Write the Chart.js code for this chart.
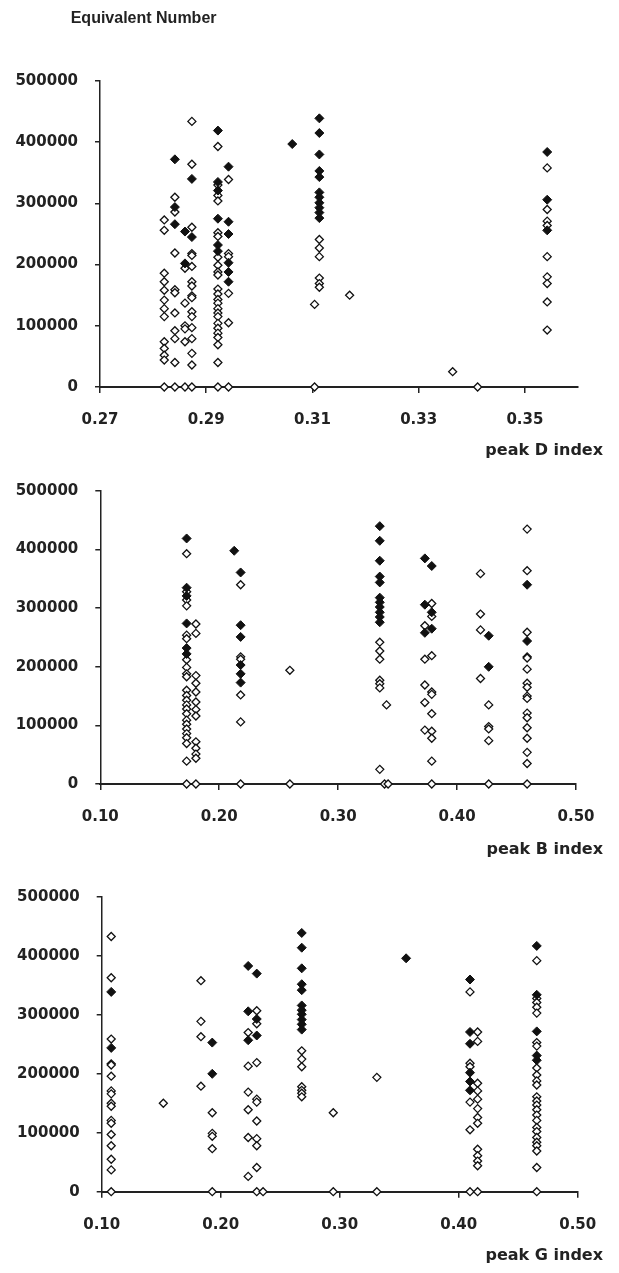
<!DOCTYPE html>
<html>
<head>
<meta charset="utf-8">
<script src="https://cdn.jsdelivr.net/npm/chart.js@4.4.1/dist/chart.umd.min.js"></script>
<style>
    body { margin: 0; background: #fff; }
    #wrap { position: relative; width: 619px; height: 1273px; }
    canvas { position: absolute; left: 0; }
</style>
</head>
<body>
<div id="wrap">
    <canvas id="chartD" width="619" height="465" style="top:0px"></canvas>
    <canvas id="chartB" width="619" height="406" style="top:465px"></canvas>
    <canvas id="chartG" width="619" height="402" style="top:871px"></canvas>
</div>
<script>
// Tick labels
const yTicks = [0, 100000, 200000, 300000, 400000, 500000];
const peakDTicks = [0.27, 0.29, 0.31, 0.33, 0.35];
const peakBTicks = [0.10, 0.20, 0.30, 0.40, 0.50];
const peakGTicks = [0.10, 0.20, 0.30, 0.40, 0.50];

// Each entry: [index value, [equivalent numbers at that index]]
// peak D index
const peakDFilled = [
    [0.2841, [372000, 294000, 266000]],
    [0.2860, [254000, 202000]],
    [0.2873, [340000, 245000]],
    [0.2922, [419000, 335000, 321000, 275000, 232000, 222000]],
    [0.2942, [360000, 270000, 250000, 203000, 188000, 172000]],
    [0.3062, [397000]],
    [0.3113, [439000, 415000, 380000, 353000, 343000, 318000, 310000, 301000, 293000, 285000, 276000]],
    [0.3542, [384000, 306000, 256000]]
];
const peakDOpen = [
    [0.2821, [273000, 256000, 186000, 172000, 158000, 142000, 128000, 115000, 74000, 63000, 52000, 44000, 0]],
    [0.2841, [310000, 286000, 219000, 159000, 154000, 121000, 92000, 79000, 40000, 0]],
    [0.2860, [194000, 137000, 100000, 95000, 74000, 0]],
    [0.2873, [434000, 364000, 261000, 218000, 215000, 197000, 172000, 165000, 149000, 146000, 123000, 115000, 97000, 79000, 55000, 36000, 0]],
    [0.2922, [393000, 330000, 313000, 304000, 252000, 246000, 212000, 199000, 188000, 183000, 160000, 152000, 143000, 137000, 128000, 121000, 115000, 104000, 96000, 88000, 81000, 69000, 40000, 0]],
    [0.2942, [339000, 218000, 213000, 153000, 105000, 0]],
    [0.3104, [135000, 0]],
    [0.3113, [241000, 227000, 213000, 178000, 169000, 163000]],
    [0.3170, [150000]],
    [0.3364, [25000]],
    [0.3411, [0]],
    [0.3542, [358000, 290000, 271000, 264000, 213000, 180000, 169000, 139000, 93000]]
];

// peak B index
const peakBFilled = [
    [0.1726, [419000, 335000, 321000, 274000, 232000, 222000]],
    [0.2126, [398000]],
    [0.2180, [361000, 271000, 251000, 203000, 188000, 173000]],
    [0.3350, [440000, 415000, 381000, 354000, 344000, 318000, 310000, 302000, 293000, 285000, 276000]],
    [0.3729, [385000, 306000, 258000]],
    [0.3787, [372000, 293000, 265000]],
    [0.4266, [253000, 200000]],
    [0.4589, [340000, 244000]]
];
const peakBOpen = [
    [0.1726, [393000, 328000, 314000, 304000, 254000, 248000, 212000, 199000, 188000, 183000, 160000, 151000, 143000, 135000, 128000, 120000, 109000, 102000, 94000, 86000, 79000, 69000, 39000, 0]],
    [0.1804, [273000, 257000, 185000, 172000, 157000, 140000, 127000, 116000, 72000, 61000, 51000, 44000, 0]],
    [0.2180, [340000, 217000, 213000, 152000, 106000, 0]],
    [0.2594, [194000, 0]],
    [0.3350, [242000, 227000, 213000, 177000, 171000, 164000, 25000]],
    [0.3390, [0]],
    [0.3407, [135000]],
    [0.3420, [0]],
    [0.3729, [270000, 213000, 169000, 139000, 92000]],
    [0.3787, [308000, 286000, 219000, 157000, 153000, 120000, 90000, 78000, 39000, 0]],
    [0.4197, [359000, 290000, 263000, 180000]],
    [0.4266, [135000, 98000, 94000, 74000, 0]],
    [0.4589, [435000, 364000, 259000, 217000, 215000, 196000, 172000, 165000, 150000, 146000, 121000, 113000, 96000, 78000, 54000, 35000, 0]]
];

// peak G index
const peakGFilled = [
    [0.1080, [339000, 244000]],
    [0.1929, [253000, 200000]],
    [0.2231, [383000, 306000, 257000]],
    [0.2303, [370000, 293000, 265000]],
    [0.2681, [439000, 414000, 379000, 352000, 342000, 316000, 308000, 301000, 292000, 284000, 275000]],
    [0.3558, [396000]],
    [0.4095, [360000, 271000, 251000, 202000, 187000, 172000]],
    [0.4656, [417000, 334000, 272000, 231000, 223000]]
];
const peakGOpen = [
    [0.1080, [433000, 363000, 259000, 217000, 215000, 196000, 171000, 166000, 150000, 145000, 121000, 116000, 97000, 78000, 55000, 37000, 0]],
    [0.1518, [150000]],
    [0.1834, [358000, 289000, 263000, 179000]],
    [0.1929, [134000, 99000, 94000, 73000, 0]],
    [0.2231, [270000, 213000, 169000, 139000, 92000, 26000]],
    [0.2303, [307000, 285000, 219000, 157000, 152000, 120000, 90000, 78000, 41000, 0]],
    [0.2356, [0]],
    [0.2681, [239000, 225000, 212000, 178000, 172000, 167000, 161000]],
    [0.2946, [134000, 0]],
    [0.3312, [194000, 0]],
    [0.4095, [339000, 218000, 212000, 152000, 105000, 0]],
    [0.4159, [271000, 255000, 184000, 171000, 157000, 141000, 126000, 116000, 72000, 61000, 52000, 44000, 0]],
    [0.4656, [392000, 328000, 321000, 313000, 303000, 253000, 247000, 210000, 198000, 188000, 181000, 161000, 154000, 147000, 139000, 130000, 121000, 109000, 102000, 92000, 84000, 78000, 69000, 41000, 0]]
];

const ink = '#222';
const tickFont = { family: 'DejaVu Sans', weight: 'bold', size: 15 };
const titleFont = { family: 'DejaVu Sans', weight: 'bold', size: 16 };

// flatten [x, [y...]] columns into points
function toPoints(cols) {
    const pts = [];
    cols.forEach(([x, ys]) => ys.forEach(y => pts.push({ x, y })));
    return pts;
}

// y-axis caption above the first panel, left of the axis
const yCaption = {
    id: 'yCaption',
    afterDraw(chart, args, opts) {
        if (!opts.text) return;
        const { ctx, chartArea } = chart;
        ctx.save();
        ctx.font = 'bold 16px "Liberation Sans", Arial, sans-serif';
        ctx.fillStyle = ink;
        ctx.textAlign = 'left';
        ctx.textBaseline = 'middle';
        ctx.fillText(opts.text, chartArea.left - 29.3, 19);
        ctx.restore();
    }
};

function makePanel(id, p) {
    new Chart(document.getElementById(id), {
        type: 'scatter',
        data: {
            datasets: [{
                data: toPoints(p.filled),
                pointStyle: 'rectRot',
                pointRadius: 4.5,
                backgroundColor: '#111',
                borderColor: '#111',
                borderWidth: 1,
                clip: false
            }, {
                data: toPoints(p.open),
                pointStyle: 'rectRot',
                pointRadius: 4,
                backgroundColor: '#fff',
                borderColor: '#111',
                borderWidth: 1.3,
                clip: false
            }]
        },
        plugins: [yCaption],
        options: {
            responsive: false,
            animation: false,
            events: [],
            layout: { padding: { left: 0, right: 16, top: p.padTop, bottom: 0 } },
            plugins: {
                legend: { display: false },
                tooltip: { enabled: false },
                yCaption: { text: p.topText || '' },
                title: {
                    display: true,
                    text: p.xTitle,
                    position: 'bottom',
                    align: 'end',
                    color: ink,
                    font: titleFont,
                    padding: p.titlePad
                }
            },
            scales: {
                x: {
                    type: 'linear',
                    min: p.xMin,
                    max: p.xMax,
                    afterBuildTicks: s => { s.ticks = p.xTicks.map(v => ({ value: v })); },
                    afterFit: s => { s.height = 47; },
                    grid: { drawOnChartArea: false, drawTicks: true, tickLength: 6, color: ink, lineWidth: 1.5 },
                    border: { color: ink, width: 2 },
                    ticks: {
                        color: ink, font: tickFont, padding: 18,
                        maxRotation: 0, autoSkip: false,
                        callback: v => v.toFixed(2)
                    }
                },
                y: {
                    min: 0,
                    max: 500000,
                    afterBuildTicks: s => { s.ticks = yTicks.map(v => ({ value: v })); },
                    afterFit: s => { s.width = p.yWidth; },
                    grid: { drawOnChartArea: false, drawTicks: true, tickLength: 5, color: ink, lineWidth: 1.5 },
                    border: { color: ink, width: 1.5 },
                    ticks: { color: ink, font: tickFont, padding: 17, callback: v => String(v) }
                },
                // empty right axis, only to keep the plot narrower than the title line
                yR: {
                    position: 'right',
                    afterFit: s => { s.width = p.rightWidth; },
                    grid: { display: false },
                    border: { display: false },
                    ticks: { display: false }
                }
            }
        }
    });
}

makePanel('chartD', {
    filled: peakDFilled, open: peakDOpen,
    xMin: 0.27, xMax: 0.36, xTicks: peakDTicks,
    xTitle: 'peak D index', topText: 'Equivalent Number',
    padTop: 81, yWidth: 100, rightWidth: 25,
    titlePad: { top: 7.4, bottom: 4.4 }
});

makePanel('chartB', {
    filled: peakBFilled, open: peakBOpen,
    xMin: 0.1, xMax: 0.5, xTicks: peakBTicks,
    xTitle: 'peak B index',
    padTop: 14, yWidth: 100.3, rightWidth: 27,
    titlePad: { top: 9.4, bottom: 11.4 }
});

makePanel('chartG', {
    filled: peakGFilled, open: peakGOpen,
    xMin: 0.1, xMax: 0.5, xTicks: peakGTicks,
    xTitle: 'peak G index',
    padTop: 14, yWidth: 101.7, rightWidth: 25.3,
    titlePad: { top: 7.7, bottom: 7.4 }
});
</script>
</body>
</html>
